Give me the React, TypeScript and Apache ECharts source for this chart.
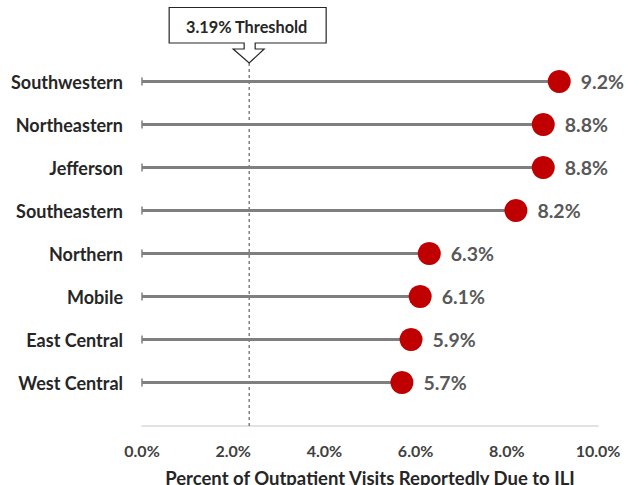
import React, { useEffect, useRef } from "react";
import * as echarts from "echarts";

const categories = [
  "Southwestern",
  "Northeastern",
  "Jefferson",
  "Southeastern",
  "Northern",
  "Mobile",
  "East Central",
  "West Central",
];
const values = [9.15, 8.8, 8.8, 8.2, 6.3, 6.1, 5.9, 5.7];
const xMin = 0;
const xMax = 10;
const xInterval = 2;
const thresholdLabel = "3.19% Threshold";
const thresholdPosition = 2.35;
const axisTitle = "Percent of Outpatient Visits Reportedly Due to ILI";

const FONT = "Lato, 'Open Sans', sans-serif";

export default function App() {
  const ref = useRef<HTMLDivElement>(null);
  useEffect(() => {
    if (!ref.current) return;
    const chart = echarts.init(ref.current, undefined, { renderer: "svg" });
    const axisOffset = 22;
    chart.setOption({
      animation: false,
      textStyle: { fontFamily: FONT },
      grid: {
        left: 142,
        width: 456,
        top: 60,
        height: 344,
        containLabel: false,
        outerBoundsMode: "none",
      },
      xAxis: {
        type: "value",
        min: xMin,
        max: xMax,
        interval: xInterval,
        offset: axisOffset,
        axisLine: { show: true, lineStyle: { color: "#d9d9d9", width: 1.5 } },
        axisTick: { show: false },
        splitLine: { show: false },
        axisLabel: {
          margin: 16,
          fontSize: 16,
          fontWeight: "bold",
          color: "#404040",
          fontFamily: FONT,
          formatter: (v: number) => v.toFixed(1) + "%",
        },
        name: axisTitle,
        nameLocation: "middle",
        nameGap: 42,
        nameTextStyle: { fontSize: 18.5, fontWeight: "bold", color: "#262626", fontFamily: FONT },
      },
      yAxis: {
        type: "category",
        data: categories,
        inverse: true,
        axisLine: { show: false },
        axisTick: { show: false },
        axisLabel: {
          margin: 19,
          fontSize: 18,
          fontWeight: "bold",
          color: "#262626",
          fontFamily: FONT,
        },
      },
      series: [
        {
          type: "bar",
          data: values,
          barWidth: 3,
          itemStyle: { color: "#7f7f7f" },
          silent: true,
          z: 2,
        },
        {
          type: "scatter",
          data: values.map(() => 0),
          symbol: "rect",
          symbolSize: [1.5, 8],
          itemStyle: { color: "#7f7f7f", opacity: 1 },
          silent: true,
          z: 3,
        },
        {
          type: "scatter",
          data: values,
          symbol: "circle",
          symbolSize: 23,
          itemStyle: { color: "#c00000", opacity: 1 },
          z: 4,
          label: {
            show: true,
            position: "right",
            distance: 10,
            fontSize: 19.5,
            fontWeight: "bold",
            color: "#595959",
            fontFamily: FONT,
            formatter: (p: any) => (Math.round(p.value * 10) / 10).toFixed(1) + "%",
          },
        },
      ],
    });

    const cx = chart.convertToPixel({ xAxisIndex: 0 }, thresholdPosition) as number;
    const yLast = chart.convertToPixel({ yAxisIndex: 0 }, categories.length - 1) as number;
    const yPrev = chart.convertToPixel({ yAxisIndex: 0 }, categories.length - 2) as number;
    const bottom = yLast + Math.abs(yLast - yPrev) / 2 + axisOffset;
    const tip = 63;

    chart.setOption({
      graphic: [
        {
          type: "line",
          shape: { x1: cx, y1: tip, x2: cx, y2: bottom },
          style: { stroke: "#404040", lineWidth: 1, lineDash: [3, 3] },
          z: 1,
        },
        {
          type: "polygon",
          shape: {
            points: [
              [cx - 80, 7.5],
              [cx + 77, 7.5],
              [cx + 77, 43],
              [cx + 6, 43],
              [cx + 6, 49],
              [cx + 15, 49],
              [cx, tip],
              [cx - 16, 49],
              [cx - 5, 49],
              [cx - 5, 43],
              [cx - 80, 43],
            ],
          },
          style: { fill: "#ffffff", stroke: "#262626", lineWidth: 1.2 },
          z: 10,
        },
        {
          type: "text",
          x: cx - 2.5,
          y: 26.5,
          style: {
            text: thresholdLabel,
            fill: "#262626",
            fontSize: 16.3,
            fontWeight: "bold",
            fontFamily: FONT,
            align: "center",
            verticalAlign: "middle",
          },
          z: 11,
        },
      ],
    });

    return () => chart.dispose();
  }, []);
  return (
    <div
      ref={ref}
      style={{ position: "absolute", left: 0, top: 0, width: 639, height: 485 }}
    />
  );
}
